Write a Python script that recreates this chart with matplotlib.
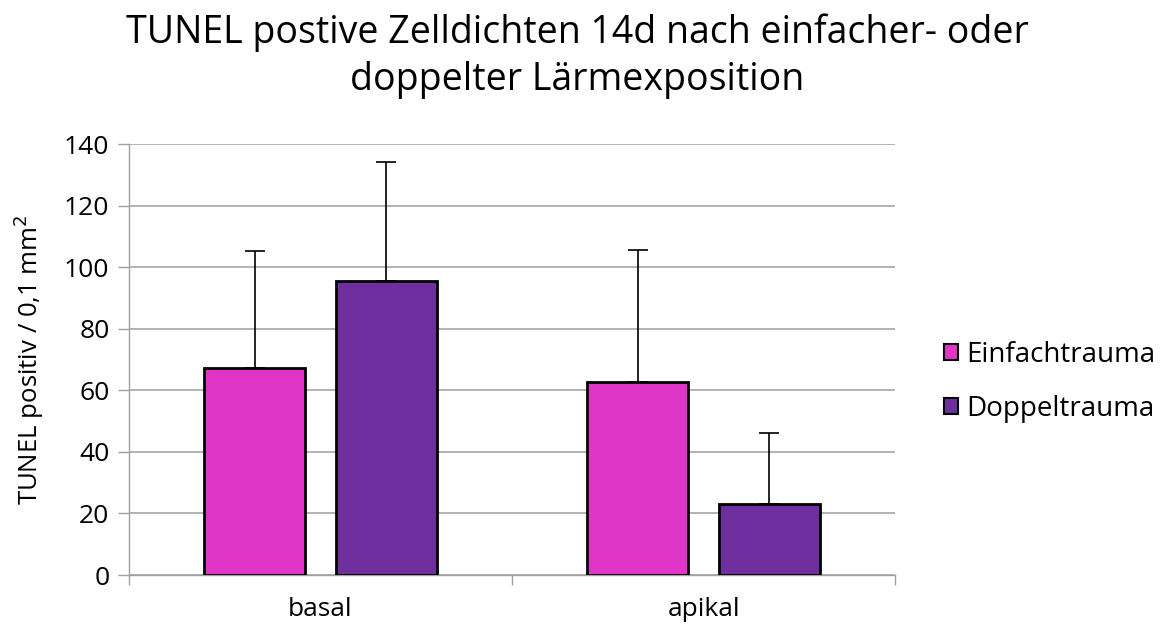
import matplotlib
matplotlib.use("Agg")
import matplotlib.pyplot as plt
import numpy as np

categories = ["basal", "apikal"]
series_names = ["Einfachtrauma", "Doppeltrauma"]
einfach = [67.2, 62.7]
einfach_err = [38.2, 43.0]
doppel = [95.4, 23.0]
doppel_err = [38.9, 23.0]
yticks = [0, 20, 40, 60, 80, 100, 120, 140]

colors = ["#E036C8", "#6E2E9E"]
font = "Open Sans"
plt.rcParams['font.family'] = [font, 'DejaVu Sans']

fig = plt.figure(figsize=(11.61, 6.3), dpi=100)
ax = fig.add_axes([0.111, 0.0873, 0.660, 0.6841])

x = np.arange(len(categories))
w = 0.264
off = 0.172
for i, (vals, errs) in enumerate([(einfach, einfach_err), (doppel, doppel_err)]):
    pos = x + (-off if i == 0 else off)
    ax.bar(pos, vals, width=w, color=colors[i], edgecolor="black", linewidth=2,
           label=series_names[i], zorder=3)
    ax.errorbar(pos, vals, yerr=[np.zeros(len(errs)), errs], fmt="none",
                ecolor="black", elinewidth=1.2, capsize=7, capthick=1.2, zorder=2)

ax.set_xlim(-0.5, 1.5)
ax.set_ylim(0, 140)
ax.set_yticks(yticks)
ax.set_xticks(x)
ax.set_xticklabels(categories, fontsize=19)
ax.set_xticks([-0.5, 0.5, 1.5], minor=True)
ax.tick_params(axis="x", which="major", length=0, pad=16)
ax.tick_params(axis="x", which="minor", length=7, color="#a0a0a0", width=1)
ax.tick_params(axis="y", labelsize=19, length=8, color="#a0a0a0", width=1, pad=6)
ax.yaxis.grid(True, color="#a6a6a6", linewidth=1.2, zorder=0)
ax.set_axisbelow(True)
for s in ["top", "right"]:
    ax.spines[s].set_visible(False)
for s in ["left", "bottom"]:
    ax.spines[s].set_color("#a0a0a0")
    ax.spines[s].set_linewidth(1)

ax.set_ylabel("TUNEL positiv / 0,1 mm$^2$", fontsize=18.5, labelpad=13)

fig.suptitle("TUNEL postive Zelldichten 14d nach einfacher- oder\ndoppelter Lärmexposition",
             fontsize=27, x=0.497, y=0.978, linespacing=1.3)

leg = ax.legend(loc="center left", bbox_to_anchor=(1.064, 0.448), frameon=False,
                fontsize=20, handlelength=0.5, handleheight=0.5, handletextpad=0.3,
                labelspacing=0.95, borderaxespad=0, borderpad=0)
for h in leg.legend_handles:
    h.set_linewidth(1.5)

fig.savefig("out.png", dpi=100)
